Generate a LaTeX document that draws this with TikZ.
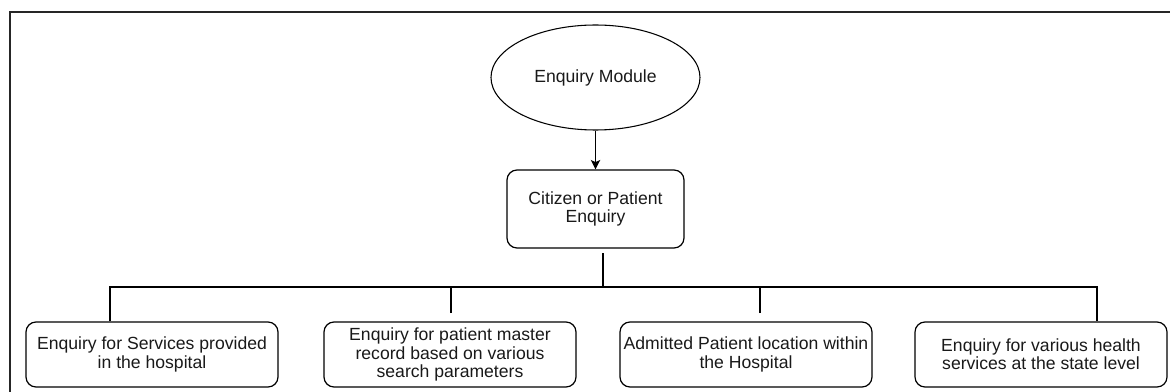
\documentclass[tikz,border=0pt]{standalone}
\usepackage{fontspec}
\setmainfont{Liberation Sans}
\usetikzlibrary{shapes.geometric,arrows.meta}

\begin{document}
\begin{tikzpicture}[x=0.75pt, y=-0.75pt,
  every node/.style={font=\fontsize{13.2}{13.6}\selectfont, align=center, inner sep=0pt, text=black!90},
  oval/.style={ellipse, draw, line width=0.8pt, minimum width=156.75pt, minimum height=78.75pt},
  card/.style={rectangle, rounded corners=7.5pt, draw, line width=0.9pt, minimum width=189pt, minimum height=48.75pt},
  bus/.style={line width=2pt},
  frame/.style={line width=1.6pt, draw=black!85}]
  \useasboundingbox (0,0) rectangle (1170,392);
  \draw[frame] (10,420) -- (10,12) -- (1200,12);
  \node[oval] (module) at (595.5,77.5) {Enquiry Module};
  \node[card, minimum width=132.75pt, minimum height=58.5pt] (citizen) at (595.5,209) {Citizen or Patient\\Enquiry};
  \node[card] (svc) at (152,354.5) {Enquiry for Services provided\\in the hospital};
  \node[card] (master) at (450,354.5) {Enquiry for patient master\\record based on various\\search parameters};
  \node[card] (locate) at (746,354.5) {Admitted Patient location within\\the Hospital};
  \node[card] (state) at (1041,354.5) {Enquiry for various health\\services at the state level};
  \coordinate (busL) at (110,287);
  \coordinate (busR) at (1097,287);
  \coordinate (drop) at (603,253);
  \coordinate (tap2) at (451,313);
  \coordinate (tap3) at (760,313);
  \draw[line width=0.9pt, -{Stealth[length=7pt, width=7pt, inset=1.5pt]}] (module) -- (citizen);
  \draw[bus] (svc.north -| busL) -- (busL) -- (busR) -- (state.north -| busR);
  \draw[bus] (drop) -- (drop |- busL);
  \draw[bus] (tap2) -- (tap2 |- busL);
  \draw[bus] (tap3) -- (tap3 |- busL);
\end{tikzpicture}
\end{document}
